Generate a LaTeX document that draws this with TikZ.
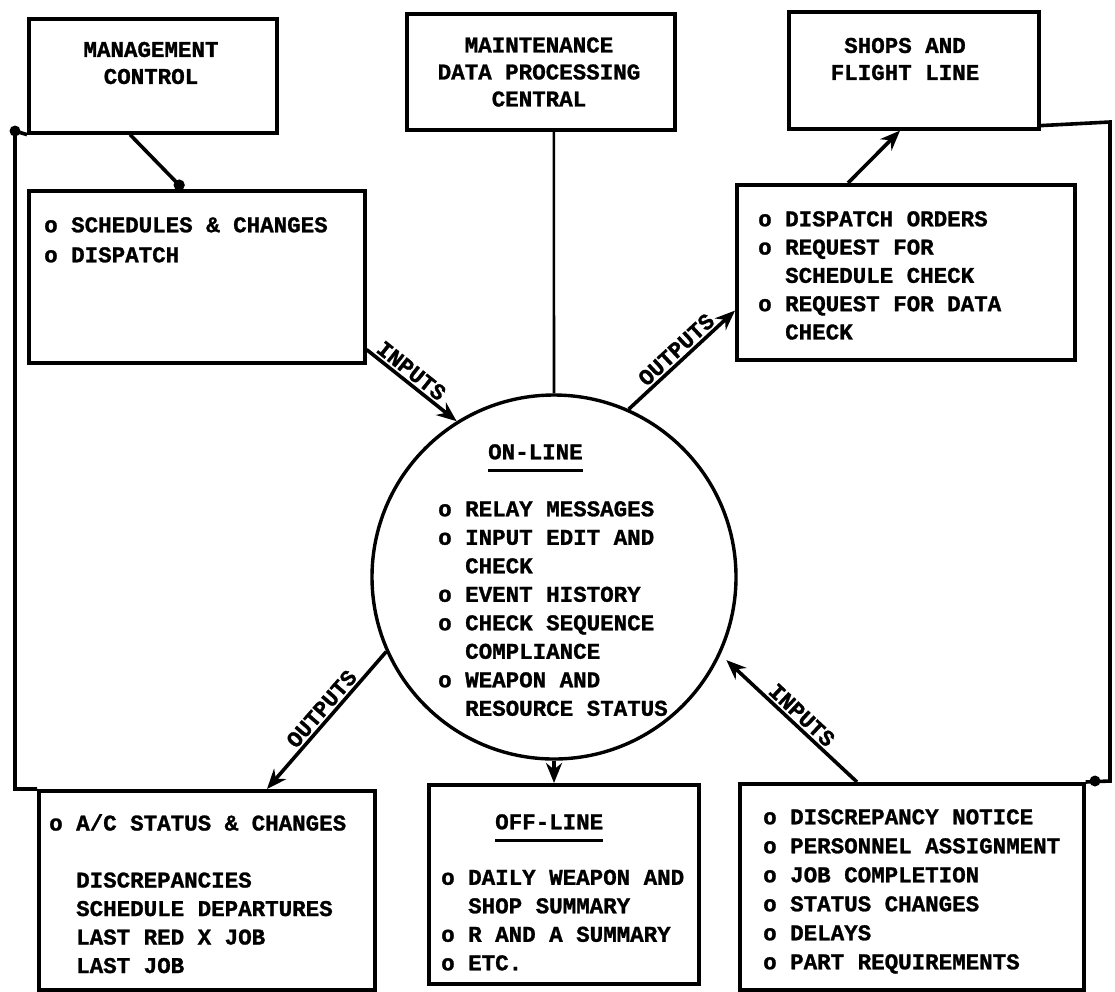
\documentclass[tikz,border=0pt]{standalone}
\usepackage{fontspec}
\setmainfont{Liberation Mono}[BoldFeatures={FakeBold=1.2}]
\usetikzlibrary{arrows.meta}
\newcommand\bul{o\ }
\newcommand\indt{\phantom{o}\ }
\newcommand\ulhead[1]{\setbox0\hbox{#1}\makebox[0pt][l]{\rule[-13pt]{\wd0}{2.8pt}}\box0}
\begin{document}
\begin{tikzpicture}[x=1pt,y=-1pt,
  font=\bfseries\fontsize{22.5}{28.5}\selectfont,
  box/.style={draw, line width=3.6pt, inner sep=0pt, anchor=north west},
  txt/.style={inner sep=0pt, align=left, anchor=north west},
  head/.style={inner sep=0pt, align=center, font=\bfseries\fontsize{22.5}{27}\selectfont},
  conn/.style={line width=3.6pt},
  arr/.style={conn, -{Stealth[length=20pt,width=16pt]}},
  dotarr/.style={conn, -{Circle[length=11pt]}},
  lbl/.style={sloped, above, inner sep=2pt},
  dotnode/.style={circle, fill, inner sep=0pt, minimum size=11pt}]
\useasboundingbox (0,0) rectangle (1115,991);

% boxes
\node[box, minimum width=248pt, minimum height=114pt] (mgmt) at (27,17) {};
\node[box, minimum width=268pt, minimum height=116pt] (maint) at (405,12) {};
\node[box, minimum width=250pt, minimum height=117pt] (shops) at (787,10) {};
\node[box, minimum width=336pt, minimum height=172pt] (sched) at (27,189) {};
\node[box, minimum width=338pt, minimum height=175pt] (disp) at (735,183) {};
\node[box, minimum width=336pt, minimum height=199pt] (ac) at (37,789) {};
\node[box, minimum width=270pt, minimum height=199pt] (off) at (427,783) {};
\node[box, minimum width=344pt, minimum height=206pt] (inbox) at (738,782) {};
\node[circle, draw, line width=3.4pt, minimum size=364pt, inner sep=0pt] (online) at (554,577) {};

% texts
\node[head] (mgmtT) at (151,63) {MANAGEMENT\\CONTROL};
\node[head] (maintT) at (539,72) {MAINTENANCE\\DATA PROCESSING\\CENTRAL};
\node[head] (shopsT) at (905,59) {SHOPS AND\\FLIGHT LINE};

\node[txt, font=\bfseries\fontsize{22.5}{30}\selectfont] (schedT) at (44,217)
  {\bul SCHEDULES \& CHANGES\\\bul DISPATCH};
\node[txt, font=\bfseries\fontsize{22.5}{28.3}\selectfont] (dispT) at (758,211)
  {\bul DISPATCH ORDERS\\\bul REQUEST FOR\\\indt SCHEDULE CHECK\\\bul REQUEST FOR DATA\\\indt CHECK};
\node[txt] (onlineT) at (438,444)
  {\hspace*{50pt}\ulhead{ON-LINE}\\[28.5pt]
   \bul RELAY MESSAGES\\\bul INPUT EDIT AND\\\indt CHECK\\\bul EVENT HISTORY\\
   \bul CHECK SEQUENCE\\\indt COMPLIANCE\\\bul WEAPON AND\\\indt RESOURCE STATUS};
\node[txt] (acT) at (49,814)
  {\bul A/C STATUS \& CHANGES\\[28.5pt]
   \indt DISCREPANCIES\\\indt SCHEDULE DEPARTURES\\\indt LAST RED X JOB\\\indt LAST JOB};
\node[txt] (offT) at (441,814)
  {\hspace*{54pt}\ulhead{OFF-LINE}\\[27pt]
   \bul DAILY WEAPON AND\\\indt SHOP SUMMARY\\\bul R AND A SUMMARY\\\bul ETC.};
\node[txt, font=\bfseries\fontsize{22.5}{29}\selectfont] (inboxT) at (763,809)
  {\bul DISCREPANCY NOTICE\\\bul PERSONNEL ASSIGNMENT\\\bul JOB COMPLETION\\
   \bul STATUS CHANGES\\\bul DELAYS\\\bul PART REQUIREMENTS};

% connectors
\draw[dotarr] ([xshift=103pt]mgmt.south west) -- ([xshift=156pt]sched.north west);
\draw[arr] ([yshift=15pt]sched.south east) -- node[lbl, pos=0.42] {INPUTS} (online.122);
\draw[arr] (online.66) -- node[lbl, pos=0.52] {OUTPUTS} ([yshift=51pt]disp.south west);
\draw[arr] ([xshift=113pt]disp.north west) -- ([xshift=113pt]shops.south west);
\draw[conn, line width=2.6pt] ([xshift=13pt]maint.south) -- (online.north);
\draw[arr] (online.204) -- node[lbl, pos=0.47] {OUTPUTS} ([xshift=230pt]ac.north west);
\draw[arr] (online.south) -- (online.south |- off.north);
\draw[arr, shorten >=8pt] ([xshift=119pt]inbox.north west) -- node[lbl, pos=0.46] {INPUTS} (online.335);

% feedback lines
\coordinate (lcorner) at (15,131);
\draw[conn] (ac.north west) -| (lcorner) -- (mgmt.south west);
\node[dotnode] (ldot) at (lcorner) {};
\coordinate (rtop) at (1110,122);
\coordinate (rbot) at (1110,781);
\draw[conn] ([yshift=5pt]shops.south east) -- (rtop) -- (rbot) -- (inbox.north east);
\node[dotnode] (rdot) at (1095,781) {};
\end{tikzpicture}
\end{document}
